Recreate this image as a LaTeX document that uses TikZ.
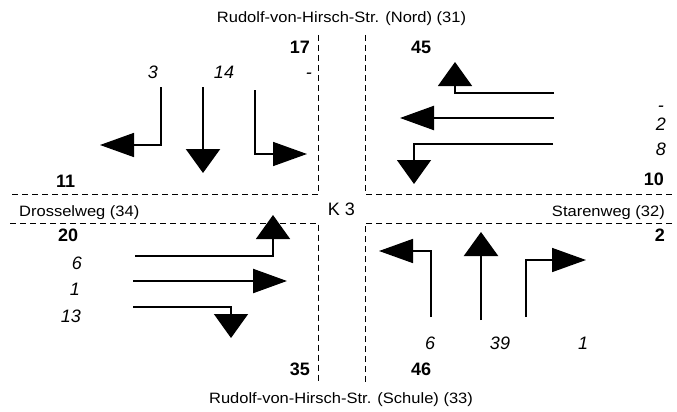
\documentclass[tikz,border=0pt]{standalone}
\usepackage{fontspec}
\usepackage{graphicx}
\setmainfont{Liberation Sans}
\usetikzlibrary{arrows.meta}
\newcommand\strname[1]{\scalebox{1.1}[1]{#1}}
\begin{document}
\begin{tikzpicture}[x=1pt,y=-1pt,
  road/.style={dash pattern=on 6pt off 4pt, line width=1pt},
  turnln/.style={line width=1.6pt},
  straightln/.style={line width=2.3pt},
  harr/.style={-{Triangle[length=34pt,width=24pt]}},
  varr/.style={-{Triangle[length=24pt,width=34pt]}},
  street/.style={font=\fontsize{15}{17}\selectfont, inner sep=0pt},
  cnt/.style={font=\fontsize{18}{20}\selectfont\itshape, inner sep=0pt},
  tot/.style={font=\fontsize{18}{20}\selectfont\bfseries, inner sep=0pt}]
\useasboundingbox (0,0) rectangle (677,412);

% road edges
\coordinate (ntl) at (318.5,35);  \coordinate (ctl) at (318.5,194); \coordinate (wtl) at (10,194);
\coordinate (ntr) at (365,35);    \coordinate (ctr) at (365,194);   \coordinate (etr) at (672,194);
\coordinate (wbl) at (10,223);    \coordinate (cbl) at (318.5,223); \coordinate (sbl) at (318.5,384);
\coordinate (ebr) at (672,223);   \coordinate (cbr) at (365,223);   \coordinate (sbr) at (365,384);
\draw[road] (ntl) -- (ctl) -- (wtl);
\draw[road] (ntr) -- (ctr) -- (etr);
\draw[road] (wbl) -- (cbl) -- (sbl);
\draw[road] (ebr) -- (cbr) -- (sbr);

% street names
\node[street, anchor=base] (north) at (341.5,23) {\strname{Rudolf-von-Hirsch-Str. (Nord) (31)}};
\node[street, anchor=base] (south) at (341,403) {\strname{Rudolf-von-Hirsch-Str. (Schule) (33)}};
\node[street, anchor=base west] (west) at (19,216) {\strname{Drosselweg (34)}};
\node[street, anchor=base east] (east) at (665,216) {\strname{Starenweg (32)}};
\node[font=\fontsize{18}{20}\selectfont, inner sep=0pt, anchor=base] (k3) at (341.5,215) {K 3};

% totals
\node[tot, anchor=base east] (t17) at (310,53) {17};
\node[tot, anchor=base west] (t45) at (411,53) {45};
\node[tot, anchor=base west] (t11) at (56,187) {11};
\node[tot, anchor=base east] (t10) at (664,185) {10};
\node[tot, anchor=base west] (t20) at (58,241) {20};
\node[tot, anchor=base east] (t2) at (665,241) {2};
\node[tot, anchor=base east] (t35) at (310,375) {35};
\node[tot, anchor=base west] (t46) at (411,375) {46};

% counts
\node[cnt, anchor=base] (cn3) at (153,78) {3};
\node[cnt, anchor=base] (cn14) at (224,78) {14};
\node[cnt, anchor=base east] (cnr) at (312,78) {-};
\node[cnt, anchor=base east] (cer) at (664,111) {-};
\node[cnt, anchor=base east] (ce2) at (666,130) {2};
\node[cnt, anchor=base east] (ce8) at (666,155) {8};
\node[cnt, anchor=base east] (cw6) at (82,269) {6};
\node[cnt, anchor=base east] (cw1) at (80,295) {1};
\node[cnt, anchor=base east] (cw13) at (81,322) {13};
\node[cnt, anchor=base] (cs6) at (430,349) {6};
\node[cnt, anchor=base] (cs39) at (500,349) {39};
\node[cnt, anchor=base] (cs1) at (583,349) {1};

% north approach
\coordinate (a1s) at (161,87);  \coordinate (a1k) at (161,145); \coordinate (a1e) at (100,145);
\coordinate (a2s) at (203,87);  \coordinate (a2e) at (203,173);
\coordinate (a3s) at (255,90);  \coordinate (a3k) at (255,154); \coordinate (a3e) at (307,154);
\draw[turnln, harr] (a1s) -- (a1k) -- (a1e);
\draw[straightln, varr] (a2s) -- (a2e);
\draw[turnln, harr] (a3s) -- (a3k) -- (a3e);

% east approach
\coordinate (b1s) at (554,93);  \coordinate (b1k) at (455,93);  \coordinate (b1e) at (455,62);
\coordinate (b2s) at (554,118); \coordinate (b2e) at (400,118);
\coordinate (b3s) at (553,144); \coordinate (b3k) at (414,144); \coordinate (b3e) at (414,184);
\draw[turnln, varr] (b1s) -- (b1k) -- (b1e);
\draw[straightln, harr] (b2s) -- (b2e);
\draw[turnln, varr] (b3s) -- (b3k) -- (b3e);

% west approach
\coordinate (c1s) at (135,256); \coordinate (c1k) at (273,256); \coordinate (c1e) at (273,215);
\coordinate (c2s) at (133,281); \coordinate (c2e) at (287,281);
\coordinate (c3s) at (133,307); \coordinate (c3k) at (231,307); \coordinate (c3e) at (231,338);
\draw[turnln, varr] (c1s) -- (c1k) -- (c1e);
\draw[straightln, harr] (c2s) -- (c2e);
\draw[turnln, varr] (c3s) -- (c3k) -- (c3e);

% south approach
\coordinate (d1s) at (431,317); \coordinate (d1k) at (431,251); \coordinate (d1e) at (379,251);
\coordinate (d2s) at (481,320); \coordinate (d2e) at (481,232);
\coordinate (d3s) at (526,317); \coordinate (d3k) at (526,260); \coordinate (d3e) at (586,260);
\draw[turnln, harr] (d1s) -- (d1k) -- (d1e);
\draw[straightln, varr] (d2s) -- (d2e);
\draw[turnln, harr] (d3s) -- (d3k) -- (d3e);
\end{tikzpicture}
\end{document}
